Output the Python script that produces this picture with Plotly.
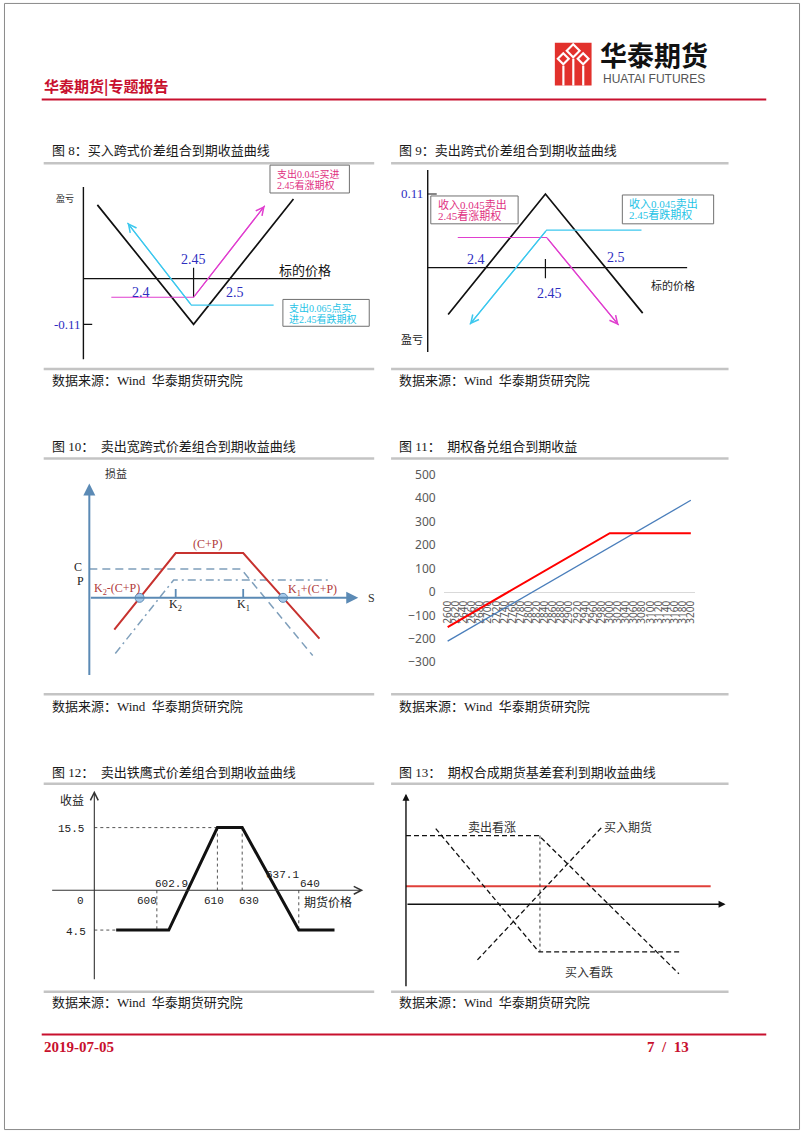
import plotly.graph_objects as go

W, H = 802, 1133
CJK = "Noto Sans CJK SC"
SERIF = "Liberation Serif, Noto Sans CJK SC"
MONO = "Liberation Mono, Noto Sans CJK SC"

# ------------------------------------------------------------------ data
# Fig 8 : long straddle (x = underlying price, y = P/L)
f8_straddle_x = [2.319, 2.45, 2.586]
f8_straddle_y = [0.177, -0.11, 0.191]
f8_call_x = [2.338, 2.45, 2.547]
f8_call_y = [-0.045, -0.045, 0.175]
f8_put_x = [2.559, 2.447, 2.36]
f8_put_y = [-0.064, -0.064, 0.134]
f8_axis_x = 2.30
f8_yaxis_span = [-0.194, 0.22]
f8_xaxis_end = 2.624
f8_strike = 2.45
f8_strike_tick = [0.026, -0.045]
f8_min = -0.11
f8_breakevens = [2.4, 2.5]

# Fig 9 : short straddle
f9_straddle_x = [2.369, 2.45, 2.531]
f9_straddle_y = [-0.070, 0.11, -0.068]
f9_call_x = [2.377, 2.451, 2.511]
f9_call_y = [0.045, 0.045, -0.086]
f9_put_x = [2.530, 2.451, 2.387]
f9_put_y = [0.056, 0.056, -0.085]
f9_axis_x = 2.352
f9_yaxis_span = [-0.126, 0.146]
f9_xaxis_end = 2.568
f9_strike = 2.45
f9_strike_tick = [0.013, -0.016]
f9_max = 0.11
f9_breakevens = [2.4, 2.5]

# Fig 10 : short strangle (schematic units)
f10_K = [2, 4]                      # K2, K1
f10_total_x = [0.18, 2, 4, 6.26]
f10_total_y = [-2.13, 3.0, 3.0, -2.73]
f10_call_x = [-0.56, 3.94, 6.06]
f10_call_y = [1.93, 1.93, -3.87]
f10_put_x = [0.21, 1.94, 6.53]
f10_put_y = [-3.73, 1.2, 1.2]
f10_breakeven_x = [0.93, 5.18]
f10_axis_x = -0.56
f10_yaxis_span = [-5.27, 7.67]
f10_xaxis_end = 7.41

# Fig 11 : covered call payoff
f11_price = ["2600", "2620", "2640", "2660", "2680", "2700", "2720", "2740", "2760", "2780",
             "2800", "2820", "2840", "2860", "2880", "2900", "2920", "2940", "2960", "2980",
             "3000", "3020", "3040", "3060", "3080", "3100", "3120", "3140", "3160", "3180", "3200"]
f11_future = [-210, -190, -170, -150, -130, -110, -90, -70, -50, -30,
              -10, 10, 30, 50, 70, 90, 110, 130, 150, 170,
              190, 210, 230, 250, 270, 290, 310, 330, 350, 370, 390]
f11_covered = [-150, -130, -110, -90, -70, -50, -30, -10, 10, 30,
               50, 70, 90, 110, 130, 150, 170, 190, 210, 230,
               250, 250, 250, 250, 250, 250, 250, 250, 250, 250, 250]
f11_yticks = [500, 400, 300, 200, 100, 0, -100, -200, -300]

# Fig 12 : short iron condor (schematic units)
f12_payoff_x = [2.2, 7.5, 12.4, 14.9, 20.6, 24.2]
f12_payoff_y = [-4.0, -4.0, 6.3, 6.3, -4.0, -4.0]
f12_top = 6.3
f12_bottom = -4.0
f12_strike_pos = [6.3, 12.4, 14.9, 20.6]
f12_yaxis_span = [-9.1, 10.0]
f12_xaxis_span = [-4.4, 27.1]

# Fig 13 : synthetic futures basis arbitrage (schematic units)
f13_red_y = 1.8
f13_red_x = [0, 30.7]
f13_short_call_x = [0, 13.4, 27.5]
f13_short_call_y = [6.9, 6.9, -7.0]
f13_long_put_x = [3.0, 13.4, 27.7]
f13_long_put_y = [7.6, -4.8, -4.8]
f13_long_fut_x = [7.2, 19.7]
f13_long_fut_y = [-5.6, 7.7]
f13_strike = 13.5
f13_yaxis_span = [-8.4, 11.1]
f13_xaxis_end = 32.2

# ------------------------------------------------------------------ helpers
fig = go.Figure()
axes = {}
shapes = []
annos = []


def add_panel(n, box, xcal, ycal):
    l, t, r, b = box
    sx = (xcal[3] - xcal[1]) / (xcal[2] - xcal[0])
    sy = (ycal[3] - ycal[1]) / (ycal[2] - ycal[0])
    xr = [xcal[1] + (l - xcal[0]) * sx, xcal[1] + (r - xcal[0]) * sx]
    yr = [ycal[1] + (b - ycal[0]) * sy, ycal[1] + (t - ycal[0]) * sy]
    suf = '' if n == 1 else str(n)
    axes['xaxis' + suf] = dict(domain=[l / W, r / W], range=xr, visible=False,
                               fixedrange=True, anchor='y' + suf)
    axes['yaxis' + suf] = dict(domain=[1 - b / H, 1 - t / H], range=yr, visible=False,
                               fixedrange=True, anchor='x' + suf)
    return ('x' + suf, 'y' + suf)


def line(p, xs, ys, color, width=1.2, dash='solid'):
    fig.add_trace(go.Scatter(x=xs, y=ys, xaxis=p[0], yaxis=p[1], mode='lines',
                             line=dict(color=color, width=width, dash=dash),
                             hoverinfo='skip', showlegend=False))


def arrow(p, x0, y0, x1, y1, color, width=1.2, head=5, size=1.2):
    annos.append(dict(xref=p[0], yref=p[1], axref=p[0], ayref=p[1], x=x1, y=y1,
                      ax=x0, ay=y0, text='', showarrow=True, arrowhead=head,
                      arrowsize=size, arrowwidth=width, arrowcolor=color))


def txt(x, y, s, size=12, color='#222', family=CJK, xa='center', p=None, bold=False):
    if p is None:
        d = dict(x=x / W, y=1 - y / H, xref='paper', yref='paper')
    else:
        d = dict(x=x, y=y, xref=p[0], yref=p[1])
    if bold:
        s = '<b>' + s + '</b>'
    d.update(text=s, showarrow=False, xanchor=xa, yanchor='middle',
             font=dict(size=size, color=color, family=family))
    annos.append(d)


def hline(x0, x1, y, color, width):
    shapes.append(dict(type='line', xref='paper', yref='paper', x0=x0 / W, x1=x1 / W,
                       y0=1 - y / H, y1=1 - y / H, line=dict(color=color, width=width)))


def rect(x0, y0, x1, y1, line_color, fill='white', width=1):
    shapes.append(dict(type='rect', xref='paper', yref='paper', x0=x0 / W, x1=x1 / W,
                       y0=1 - y1 / H, y1=1 - y0 / H, fillcolor=fill,
                       line=dict(color=line_color, width=width), layer='above'))


def path(pts, fill):
    d = 'M ' + ' L '.join('%f,%f' % (x / W, 1 - y / H) for x, y in pts) + ' Z'
    shapes.append(dict(type='path', xref='paper', yref='paper', path=d,
                       fillcolor=fill, line=dict(width=0)))


# ------------------------------------------------------------------ page frame
shapes.append(dict(type='rect', xref='paper', yref='paper', x0=0.0006, x1=0.9994,
                   y0=0.0004, y1=0.9996, line=dict(color='#8a8a8a', width=1)))
# logo
path([(555, 40), (592, 40), (592, 83), (555, 83)], '#e2312c')
for cx, cy, r in [(573.5, 48, 8), (563.5, 56, 7), (583.5, 56, 7)]:
    path([(cx, cy - r), (cx + r, cy), (cx, cy + r), (cx - r, cy)], 'white')
    path([(cx, cy - r + 3), (cx + r - 3, cy), (cx, cy + r - 3), (cx - r + 3, cy)], '#e2312c')
for x0, y0 in [(562.5, 63), (572.5, 56), (582.5, 63)]:
    path([(x0, y0), (x0 + 2.2, y0), (x0 + 2.2, 83), (x0, 83)], 'white')
txt(655, 52, '华泰期货', 27, '#111', CJK, bold=True)
txt(655, 76.5, 'HUATAI FUTURES', 12, '#555', 'Liberation Sans')
txt(38, 83, '华泰期货|专题报告', 15, '#c8102e', CJK, xa='left', bold=True)
hline(38, 768, 97, '#c8102e', 2)
hline(38, 768, 1037, '#c8102e', 2)
txt(38, 1050, '2019-07-05', 15, '#c8102e', 'Liberation Serif', xa='left', bold=True)
txt(692, 1050, '7  /  13', 15, '#c8102e', 'Liberation Serif', xa='right', bold=True)

# section titles, rules and sources
RULE = '#c4c4c4'
for (lx, rx) in [(40, 373), (390, 730)]:
    for y in [161, 368, 458, 695, 785, 994]:
        hline(lx, rx, y, RULE, 2.5)
titles = [(46, 148, '图 8：买入跨式价差组合到期收益曲线'),
          (396, 148, '图 9：卖出跨式价差组合到期收益曲线'),
          (46, 446, '图 10：\u3000卖出宽跨式价差组合到期收益曲线'),
          (396, 446, '图 11：\u3000期权备兑组合到期收益'),
          (46, 774, '图 12：\u3000卖出铁鹰式价差组合到期收益曲线'),
          (396, 774, '图 13：\u3000期权合成期货基差套利到期收益曲线')]
for x, y, s in titles:
    txt(x, y, s, 13, '#1a1a1a', SERIF, xa='left')
for x in [46, 396]:
    for y in [380, 707, 1005]:
        txt(x, y, '数据来源：Wind  华泰期货研究院', 13, '#1a1a1a', SERIF, xa='left')

BLUE_T = '#2e2ebf'
MAG = '#e03fcf'
MAG_T = '#e0307f'
CYAN = '#3dc8ee'
CYAN_T = '#1fc3e6'

# ------------------------------------------------------------------ Fig 8
p1 = add_panel(1, (40, 165, 390, 365), (191, 2.45, 228, 2.50), (277, 0, 323, -0.11))
line(p1, [f8_axis_x, f8_axis_x], f8_yaxis_span, '#111', 1.4)
line(p1, [f8_axis_x, f8_xaxis_end], [0, 0], '#111', 1.2)
line(p1, [f8_axis_x, f8_axis_x + 0.012], [f8_min, f8_min], '#111', 1.2)
line(p1, [f8_strike, f8_strike], f8_strike_tick, '#111', 1.2)
line(p1, f8_straddle_x, f8_straddle_y, '#111', 1.7)
line(p1, f8_call_x, f8_call_y, MAG, 1.2)
arrow(p1, f8_call_x[1], f8_call_y[1], f8_call_x[2], f8_call_y[2], MAG, 1.2, 5, 1.3)
line(p1, f8_put_x, f8_put_y, CYAN, 1.2)
arrow(p1, f8_put_x[1], f8_put_y[1], f8_put_x[2], f8_put_y[2], CYAN, 1.2, 5, 1.3)
txt(f8_strike, 0.046, '2.45', 14, BLUE_T, 'Liberation Serif', p=p1)
txt(f8_breakevens[0] - 0.022, -0.034, '2.4', 14, BLUE_T, 'Liberation Serif', p=p1)
txt(f8_breakevens[1] + 0.007, -0.034, '2.5', 14, BLUE_T, 'Liberation Serif', p=p1)
txt(f8_axis_x - 0.001, f8_min, '-0.11', 13, BLUE_T, 'Liberation Serif', xa='right', p=p1)
txt(61, 197, '盈亏', 9, '#222')
txt(303, 268, '标的价格', 13, '#111')
rect(268, 163, 348, 191, '#707070')
txt(273, 171.5, '支出0.045买进', 10, MAG_T, SERIF, xa='left')
txt(273, 182.5, '2.45看涨期权', 10, MAG_T, SERIF, xa='left')
rect(281, 298, 368, 325, '#707070')
txt(285, 306.5, '支出0.065点买', 10, CYAN_T, SERIF, xa='left')
txt(285, 317.5, '进2.45看跌期权', 10, CYAN_T, SERIF, xa='left')

# ------------------------------------------------------------------ Fig 9
p2 = add_panel(2, (390, 165, 740, 365), (485, 2.4, 606, 2.5), (266, 0, 192, 0.11))
line(p2, [f9_axis_x, f9_axis_x], f9_yaxis_span, '#111', 1.4)
line(p2, [f9_axis_x, f9_xaxis_end], [0, 0], '#111', 1.2)
line(p2, [f9_axis_x, f9_axis_x + 0.0075], [f9_max, f9_max], '#111', 1.2)
line(p2, [f9_strike, f9_strike], f9_strike_tick, '#111', 1.2)
line(p2, f9_straddle_x, f9_straddle_y, '#111', 1.7)
line(p2, f9_call_x, f9_call_y, MAG, 1.2)
arrow(p2, f9_call_x[1], f9_call_y[1], f9_call_x[2], f9_call_y[2], MAG, 1.2, 5, 1.3)
line(p2, f9_put_x, f9_put_y, CYAN, 1.2)
arrow(p2, f9_put_x[1], f9_put_y[1], f9_put_x[2], f9_put_y[2], CYAN, 1.2, 5, 1.3)
txt(f9_axis_x - 0.0025, f9_max, '0.11', 13, BLUE_T, 'Liberation Serif', xa='right', p=p2)
txt(f9_breakevens[0] - 0.008, 0.012, '2.4', 14, BLUE_T, 'Liberation Serif', p=p2)
txt(f9_breakevens[1] + 0.009, 0.015, '2.5', 14, BLUE_T, 'Liberation Serif', p=p2)
txt(f9_strike + 0.003, -0.039, '2.45', 14, BLUE_T, 'Liberation Serif', p=p2)
txt(674, 283, '标的价格', 11, '#222')
txt(411, 338, '盈亏', 11, '#222')
rect(430, 194, 518, 222, '#707070')
txt(435, 202.5, '收入0.045卖出', 11, MAG_T, SERIF, xa='left')
txt(435, 214, '2.45看涨期权', 11, MAG_T, SERIF, xa='left')
rect(623, 193, 715, 222, '#707070')
txt(628, 201.5, '收入0.045卖出', 11, CYAN_T, SERIF, xa='left')
txt(628, 213, '2.45看跌期权', 11, CYAN_T, SERIF, xa='left')

# ------------------------------------------------------------------ Fig 10
AX10 = '#5b8ab5'
RED10 = '#c7322f'
p3 = add_panel(3, (40, 462, 390, 692), (173, 2, 241, 4), (598, 0, 553, 3.0))
arrow(p3, f10_axis_x, f10_yaxis_span[0], f10_axis_x, f10_yaxis_span[1], AX10, 2, 2, 1.2)
arrow(p3, f10_axis_x, 0, f10_xaxis_end, 0, AX10, 2, 2, 1.2)
for k in f10_K:
    line(p3, [k, k], [0, 0.6], AX10, 1.8)
line(p3, f10_call_x, f10_call_y, '#7f9fbb', 1.5, '8px,5px')
line(p3, f10_put_x, f10_put_y, '#7f9fbb', 1.5, '8px,4px,2px,4px')
line(p3, f10_total_x, f10_total_y, RED10, 2)
fig.add_trace(go.Scatter(x=f10_breakeven_x, y=[0, 0], xaxis=p3[0], yaxis=p3[1], mode='markers',
                         marker=dict(size=9, color='#a9cbea', line=dict(color=AX10, width=1)),
                         hoverinfo='skip', showlegend=False))
txt(f10_K[0], -0.5, 'K<sub>2</sub>', 12, '#222', 'Liberation Serif', p=p3)
txt(f10_K[1], -0.5, 'K<sub>1</sub>', 12, '#222', 'Liberation Serif', p=p3)
txt(113, 473, '损益', 11, '#333')
txt(370, 598, 'S', 12, '#333', 'Liberation Serif')
txt(75, 567, 'C', 12, '#222', 'Liberation Serif')
txt(77, 581, 'P', 12, '#222', 'Liberation Serif')
txt(205, 544, '(C+P)', 12, '#b03a3a', 'Liberation Serif')
txt(114, 589, 'K<sub>2</sub>-(C+P)', 12, '#b03a3a', 'Liberation Serif')
txt(311, 590, 'K<sub>1</sub>+(C+P)', 12, '#b03a3a', 'Liberation Serif')

# ------------------------------------------------------------------ Fig 11
p4 = add_panel(4, (443, 468, 696, 668), (447, 0, 692, 30), (592, 0, 474, 500))
xi = list(range(len(f11_price)))
line(p4, xi, f11_future, '#4a7ebb', 1.3)
line(p4, xi, f11_covered, '#ff0000', 2)
axes['xaxis4'].update(visible=True, anchor='free', position=1 - 592 / H, showline=True,
                      linecolor='#d9d9d9', linewidth=1, showgrid=False, zeroline=False,
                      tickmode='array', tickvals=xi, ticktext=f11_price, tickangle=-90,
                      ticks='', ticklabelstandoff=4, layer='below traces',
                      tickfont=dict(family='Noto Sans', size=10, color='#595959'))
axes['yaxis4'].update(visible=True, showline=False, showgrid=False, zeroline=False,
                      tickmode='array', tickvals=f11_yticks, ticks='', ticklabelstandoff=7,
                      tickfont=dict(family='Noto Sans', size=12, color='#595959'))

# ------------------------------------------------------------------ Fig 12
p5 = add_panel(5, (40, 788, 390, 992), (91, 0, 101, 1), (892, 0, 882, 1))
arrow(p5, 0, f12_yaxis_span[0], 0, f12_yaxis_span[1], '#333', 1.1, 5, 1.4)
arrow(p5, f12_xaxis_span[0], 0, f12_xaxis_span[1], 0, '#333', 1.1, 5, 1.4)
line(p5, [0, f12_payoff_x[2]], [f12_top, f12_top], '#555', 1, 'dot')
line(p5, [0, f12_payoff_x[0]], [f12_bottom, f12_bottom], '#555', 1, 'dot')
line(p5, [f12_strike_pos[0], f12_strike_pos[0]], [0, f12_bottom], '#555', 1, 'dot')
line(p5, [f12_strike_pos[1], f12_strike_pos[1]], [f12_top, 0], '#555', 1, 'dot')
line(p5, [f12_strike_pos[2], f12_strike_pos[2]], [f12_top, 0], '#555', 1, 'dot')
line(p5, [f12_strike_pos[3], f12_strike_pos[3]], [0, f12_bottom], '#555', 1, 'dot')
line(p5, f12_payoff_x, f12_payoff_y, '#111', 3)
txt(69, 801, '收益', 12, '#222')
txt(68, 830, '15.5', 11, '#222', MONO)
txt(77, 903, '0', 11, '#222', MONO)
txt(73, 934, '4.5', 11, '#222', MONO)
txt(144, 903, '600', 11, '#222', MONO)
txt(169, 886, '602.9', 11, '#222', MONO)
txt(212, 903, '610', 11, '#222', MONO)
txt(247, 903, '630', 11, '#222', MONO)
txt(281, 877, '637.1', 11, '#222', MONO)
txt(308, 886, '640', 11, '#222', MONO)
txt(326, 903, '期货价格', 12, '#222')

# ------------------------------------------------------------------ Fig 13
p6 = add_panel(6, (390, 788, 740, 992), (405, 0, 415, 1), (906, 0, 896, 1))
arrow(p6, 0, f13_yaxis_span[0], 0, f13_yaxis_span[1], '#111', 1.4, 2, 1)
arrow(p6, 0, 0, f13_xaxis_end, 0, '#111', 1.4, 2, 1)
line(p6, f13_red_x, [f13_red_y, f13_red_y], '#e0403a', 2)
line(p6, [f13_strike, f13_strike], [f13_short_call_y[1], f13_long_put_y[1]], '#333', 1, 'dot')
line(p6, f13_short_call_x, f13_short_call_y, '#111', 1.3, '5px,3px')
line(p6, f13_long_put_x, f13_long_put_y, '#111', 1.3, '5px,3px')
line(p6, f13_long_fut_x, f13_long_fut_y, '#111', 1.3, '5px,3px')
txt(492, 828, '卖出看涨', 12, '#333')
txt(629, 828, '买入期货', 12, '#333')
txt(589, 974, '买入看跌', 12, '#333')

fig.update_layout(margin=dict(l=0, r=0, t=0, b=0),
                  paper_bgcolor='white', plot_bgcolor='rgba(0,0,0,0)',
                  shapes=shapes, annotations=annos, showlegend=False, **axes)
fig.write_html("out.html",
               config={'displayModeBar': False, 'responsive': False},
               default_width='802px; position:absolute; left:0px; top:0px',
               default_height='1133px')
